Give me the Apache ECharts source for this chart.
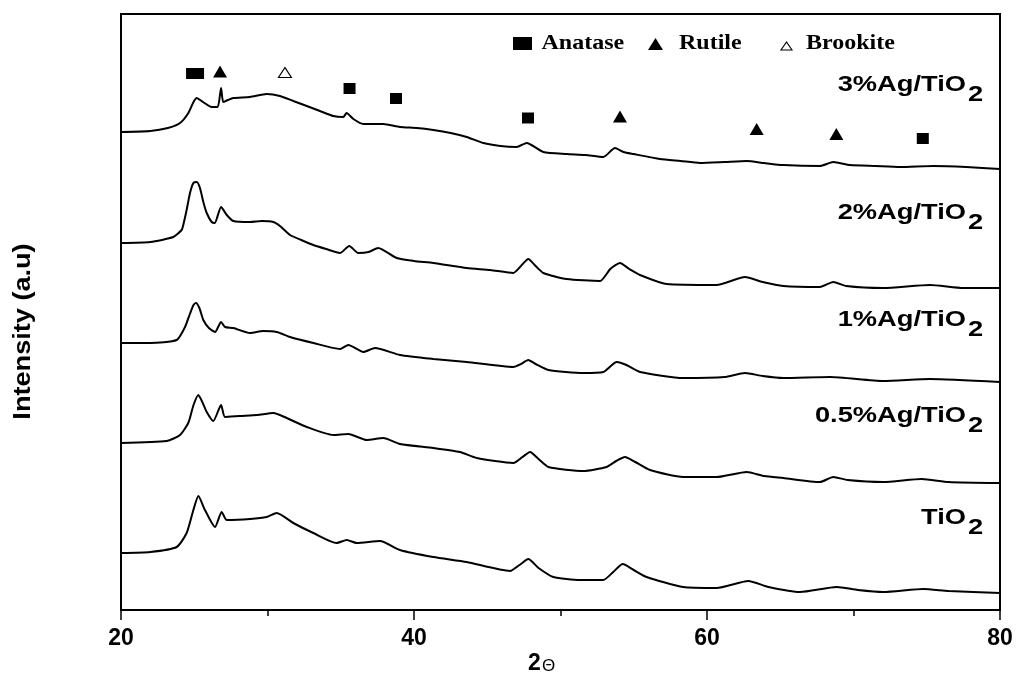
<!DOCTYPE html>
<html>
<head>
<meta charset="utf-8">
<script src="https://cdn.jsdelivr.net/npm/echarts@6/dist/echarts.min.js"></script>
<style>
html, body { margin: 0; padding: 0; background: #fff; }
#chart { width: 1016px; height: 682px; }
</style>
</head>
<body>
<div id="chart"></div>
<script>
// XRD patterns: [2θ (degrees), intensity (a.u., curves offset vertically)]
const ag3 = [
  [20,478],[22.0,479],[23.2,482],[24.03,487],[24.6,497],[24.95,508],[25.17,512],[25.4,510],[25.6,508],
  [26.19,503],[26.6,503],[26.83,522],[26.98,508],[27.3,510],[27.66,512],[28.8,513],[29.95,516],[30.85,514],
  [31.76,509],[32.68,504],[33.58,499],[34.49,494],[35.17,493],[35.4,497],[35.86,491],[36.54,486],[37.9,486],
  [39.04,483],[40.2,482],[41.32,480],[42.5,477],[43.6,473],[44.73,467],[45.9,464],[47.01,463],[47.69,467],
  [48.83,458],[50.42,456],[51.7,455],[52.92,453],[53.72,462],[54.3,458],[54.97,456],[56.79,451],[58.2,449],
  [59.52,447],[61.2,448],[62.71,449],[63.9,447],[65.21,445],[67.71,444],[68.62,448],[69.76,445],[71.5,444],
  [73.17,443],[75.45,444],[77.7,443],[80,441]
];
const ag2 = [
  [20,367],[22.0,368],[23.57,373],[24.14,380],[24.25,385],[24.48,400],[24.71,417],[24.94,427],[25.17,428],
  [25.39,422],[25.62,408],[25.85,397],[26.19,388],[26.4,387],[26.83,403],[27.22,395],[27.67,389],[28.81,388],
  [29.6,389],[30.4,388],[30.85,384],[31.54,375],[32.3,370],[33.13,365],[34.0,361],[34.95,357],[35.58,364],
  [36.2,357],[36.9,358],[37.56,362],[38.82,352],[40.0,349],[41.32,347],[43.6,342],[45.2,340],[46.78,337],
  [47.3,344],[47.8,351],[48.3,344],[48.83,337],[50.42,331],[52.7,329],[53.4,341],[54.06,347],[54.7,341],
  [55.43,335],[57.25,326],[60.66,325],[62.59,333],[63.8,328],[65.21,324],[67.71,323],[68.62,328],[69.5,324],
  [72.03,322],[75.22,325],[77.5,322],[80,322]
];
const ag1 = [
  [20,267],[22.0,267],[23.8,270],[24.37,283],[24.7,296],[24.95,305],[25.12,307],[25.35,302],[25.62,290],
  [26.0,282],[26.42,278],[26.83,288],[27.1,283],[27.67,282],[28.81,277],[29.7,279],[30.63,278],[31.54,273],
  [33.13,267],[34.95,261],[35.52,265],[36.54,258],[37.34,262],[39.04,255],[41.32,251],[43.6,248],[46.78,243],
  [47.3,246],[47.8,250],[48.3,246],[49.17,240],[51.56,237],[52.92,238],[53.84,248],[54.5,245],[55.43,238],
  [58.38,232],[61.2,233],[62.59,237],[63.8,234],[65.21,232],[68.4,233],[72.03,229],[75.22,231],[80,228]
];
const ag05 = [
  [20,167],[23.12,169],[24.03,175],[24.59,187],[24.95,205],[25.28,215],[25.55,208],[25.85,198],[26.3,189],
  [26.83,205],[27.1,193],[28.12,194],[29.3,195],[30.4,197],[31.31,192],[32.68,183],[34.49,175],[35.52,176],
  [36.77,170],[37.9,172],[39.04,166],[41.32,162],[43.14,158],[44.28,152],[46.78,147],[47.4,153],[47.92,158],
  [48.5,151],[49.17,143],[51.56,139],[53.15,143],[53.8,149],[54.4,153],[55.1,148],[56.11,140],[58.38,133],
  [60.66,133],[62.71,138],[63.9,134],[65.21,132],[67.71,128],[68.62,133],[69.6,130],[72.03,128],[74.66,131],
  [76.5,128],[80,127]
];
const tio2 = [
  [20,57],[22.0,58],[23.8,63],[24.48,77],[24.94,100],[25.28,114],[25.73,100],[26.42,83],[26.87,98],[27.22,90],
  [28.81,91],[29.95,93],[30.63,97],[31.76,87],[33.13,77],[34.72,67],[35.41,70],[36.09,67],[37.68,69],[39.04,60],
  [41.32,53],[43.6,48],[46.55,39],[47.2,45],[47.8,51],[48.5,42],[49.51,33],[51.33,30],[52.92,30],[53.6,38],
  [54.25,46],[55.0,40],[55.88,33],[58.38,23],[60.66,22],[62.82,29],[64.2,23],[66.35,18],[68.85,23],[70.3,20],
  [72.03,18],[74.77,21],[76.5,19],[80,17]
];

// Phase reflection markers: [2θ, marker height]
const anatase = [[24.85,536.5],[25.26,536.5],[35.6,521.5],[38.77,511.5],[47.78,492],[74.73,471.5]];
const rutile = [[26.76,538.5],[54.06,493.5],[63.39,481],[68.83,476]];
const brookite = [[31.19,537.5]];

const samples = [ag3, ag2, ag1, ag05, tio2];
const sampleLabels = ['3%Ag/TiO2', '2%Ag/TiO2', '1%Ag/TiO2', '0.5%Ag/TiO2', 'TiO2'];
const phaseNames = ['Anatase', 'Rutile', 'Brookite'];

// label layout (pixels)
const labelCenterY = [85, 213, 320, 416, 518];
const labelRightX = 966;

const SANS = '"Liberation Sans", Arial, Helvetica, sans-serif';
const SERIF = '"Liberation Serif", "Times New Roman", serif';

const chart = echarts.init(document.getElementById('chart'));

const graphic = [];

// sample labels with the trailing digit set as a subscript
sampleLabels.forEach((lab, i) => {
  const main = lab.slice(0, -1), sub = lab.slice(-1);
  graphic.push({
    type: 'text', x: labelRightX, y: labelCenterY[i], scaleX: 1.24, silent: true,
    style: { text: main, fill: '#000', fontFamily: SANS, fontWeight: 'bold', fontSize: 22,
             align: 'right', verticalAlign: 'middle' }
  });
  graphic.push({
    type: 'text', x: labelRightX + 2, y: labelCenterY[i] + 10, scaleX: 1.24, silent: true,
    style: { text: sub, fill: '#000', fontFamily: SANS, fontWeight: 'bold', fontSize: 22,
             align: 'left', verticalAlign: 'middle' }
  });
});

// phase key
graphic.push({ type: 'rect', shape: { x: 513, y: 37, width: 19, height: 13 }, style: { fill: '#000' }, silent: true });
graphic.push({ type: 'polygon', shape: { points: [[648, 50], [663, 50], [655.5, 38]] }, style: { fill: '#000' }, silent: true });
graphic.push({ type: 'polygon', shape: { points: [[781, 50], [792, 50], [786.5, 42]] },
               style: { fill: '#fff', stroke: '#000', lineWidth: 1.1 }, silent: true });
[541.5, 679, 806].forEach((x, i) => {
  graphic.push({
    type: 'text', x: x, y: 43.5, scaleX: 1.2, silent: true,
    style: { text: phaseNames[i], fill: '#000', fontFamily: SERIF, fontWeight: 'bold', fontSize: 20,
             align: 'left', verticalAlign: 'middle' }
  });
});

// axis titles
graphic.push({
  type: 'text', x: 23.5, y: 331.5, rotation: Math.PI / 2, scaleX: 1.13, silent: true,
  style: { text: 'Intensity (a.u)', fill: '#000', fontFamily: SANS, fontWeight: 'bold', fontSize: 24,
           align: 'center', verticalAlign: 'middle' }
});
graphic.push({
  type: 'text', x: 528, y: 664, silent: true,
  style: { text: '2', fill: '#000', fontFamily: SANS, fontWeight: 'bold', fontSize: 23,
           align: 'left', verticalAlign: 'middle' }
});
graphic.push({
  type: 'text', x: 542, y: 666, silent: true,
  style: { text: 'Θ', fill: '#000', fontFamily: SANS, fontWeight: 'normal', fontSize: 17,
           align: 'left', verticalAlign: 'middle' }
});

const lineSeries = samples.map((d, i) => ({
  name: sampleLabels[i],
  type: 'line',
  data: d,
  showSymbol: false,
  smooth: 0.2,
  lineStyle: { color: '#000', width: 2 },
  silent: true,
  z: 3
}));

const markerSeries = [
  { name: phaseNames[0], type: 'scatter', data: anatase, symbol: 'rect', symbolSize: [12, 11],
    itemStyle: { color: '#000', opacity: 1 }, silent: true, z: 4 },
  { name: phaseNames[1], type: 'scatter', data: rutile, symbol: 'triangle', symbolSize: [14, 12],
    itemStyle: { color: '#000', opacity: 1 }, silent: true, z: 4 },
  { name: phaseNames[2], type: 'scatter', data: brookite, symbol: 'triangle', symbolSize: [13, 10],
    itemStyle: { color: '#fff', borderColor: '#000', borderWidth: 1.1, opacity: 1 }, silent: true, z: 4 }
];

chart.setOption({
  animation: false,
  backgroundColor: '#fff',
  grid: { left: 121, right: 16, top: 14, bottom: 72, show: true,
          borderColor: '#000', borderWidth: 2, backgroundColor: 'transparent' },
  xAxis: {
    type: 'value', min: 20, max: 80, interval: 20,
    axisLine: { show: true, lineStyle: { color: '#000', width: 2 } },
    axisTick: { show: true, inside: false, length: 10, lineStyle: { color: '#000', width: 1.5 } },
    minorTick: { show: true, splitNumber: 2, length: 6, lineStyle: { color: '#000', width: 1.5 } },
    splitLine: { show: false },
    axisLabel: { color: '#000', fontFamily: SANS, fontWeight: 'bold', fontSize: 23, margin: 17 }
  },
  yAxis: {
    type: 'value', min: 0, max: 596,
    axisLine: { show: true, lineStyle: { color: '#000', width: 2 } },
    axisTick: { show: false },
    axisLabel: { show: false },
    splitLine: { show: false }
  },
  graphic: graphic,
  series: lineSeries.concat(markerSeries)
});
</script>
</body>
</html>
